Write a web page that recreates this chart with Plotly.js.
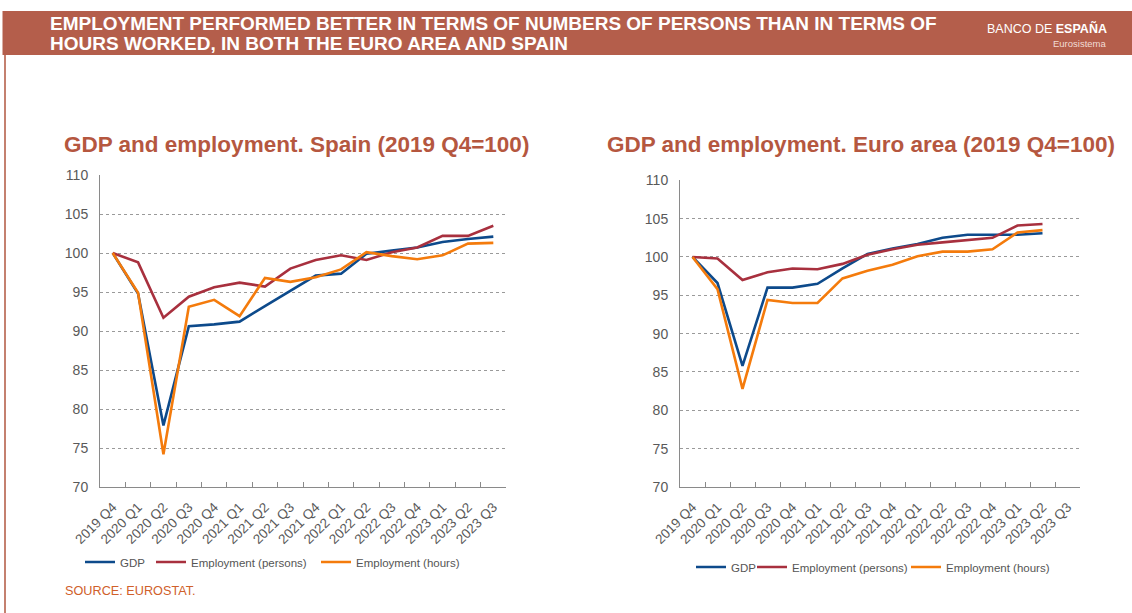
<!DOCTYPE html>
<html>
<head>
<meta charset="utf-8">
<script src="https://cdn.plot.ly/plotly-3.0.1.min.js"></script>
<style>html,body{margin:0;padding:0;background:#fff;}#chart{width:1132px;height:613px;}</style>
</head>
<body>
<div id="chart"></div>
<script>
// ---- data ----
const quarters = ["2019 Q4","2020 Q1","2020 Q2","2020 Q3","2020 Q4","2021 Q1","2021 Q2","2021 Q3",
  "2021 Q4","2022 Q1","2022 Q2","2022 Q3","2022 Q4","2023 Q1","2023 Q2","2023 Q3"];

const spainGDP     = [100, 94.8, 77.9, 90.6, 90.85, 91.2, 93.2, 95.2, 97.1, 97.35, 99.9, 100.3, 100.7, 101.4, 101.8, 102.1];
const spainPersons = [100, 98.8, 91.7, 94.4, 95.6, 96.2, 95.7, 98.0, 99.1, 99.7, 99.1, 100.1, 100.7, 102.2, 102.2, 103.5];
const spainHours   = [100, 94.9, 74.2, 93.1, 94.0, 91.9, 96.8, 96.3, 96.9, 97.9, 100.1, 99.6, 99.2, 99.7, 101.2, 101.3];

const euroGDP     = [100, 96.6, 85.8, 96.0, 96.0, 96.5, 98.5, 100.4, 101.1, 101.7, 102.5, 102.9, 102.9, 102.9, 103.1];
const euroPersons = [100, 99.8, 97.0, 98.0, 98.5, 98.4, 99.1, 100.3, 101.0, 101.6, 101.9, 102.2, 102.5, 104.1, 104.3];
const euroHours   = [100, 95.8, 82.8, 94.4, 94.0, 94.0, 97.2, 98.2, 99.0, 100.1, 100.7, 100.7, 101.0, 103.2, 103.5];

const seriesNames = ["GDP", "Employment (persons)", "Employment (hours)"];
const yTicks = [70, 75, 80, 85, 90, 95, 100, 105, 110];

// ---- style ----
const W = 1132, H = 613;
const px = v => v / W;
const py = v => 1 - v / H;
const colors = ["#0D4A8B", "#A8303E", "#F47B0C"];
const FONT = "Liberation Sans, Arial, sans-serif";

function line(x, y, name, color, xa, ya, leg) {
  return {type: "scatter", mode: "lines", x: x, y: y, name: name, xaxis: xa, yaxis: ya,
    legend: leg, showlegend: true, line: {color: color, width: 2.6}, hoverinfo: "skip"};
}
const data = [
  line(quarters.slice(0, spainGDP.length), spainGDP, seriesNames[0], colors[0], "x", "y", "legend"),
  line(quarters.slice(0, spainPersons.length), spainPersons, seriesNames[1], colors[1], "x", "y", "legend2"),
  line(quarters.slice(0, spainHours.length), spainHours, seriesNames[2], colors[2], "x", "y", "legend3"),
  line(quarters.slice(0, euroGDP.length), euroGDP, seriesNames[0], colors[0], "x2", "y2", "legend4"),
  line(quarters.slice(0, euroPersons.length), euroPersons, seriesNames[1], colors[1], "x2", "y2", "legend5"),
  line(quarters.slice(0, euroHours.length), euroHours, seriesNames[2], colors[2], "x2", "y2", "legend6")
];

function xAxis(domain, anchor) {
  return {domain: domain, anchor: anchor, type: "category", categoryorder: "array", categoryarray: quarters,
    range: [-0.5, quarters.length - 0.5], showline: true, linecolor: "#8a8a8a", linewidth: 1,
    ticks: "inside", ticklen: 5, tickcolor: "#8a8a8a", tickson: "boundaries", tickangle: -45,
    ticklabelstandoff: 6,
    tickfont: {family: FONT, size: 13.5, color: "#595959"}, showgrid: false, zeroline: false, fixedrange: true};
}
function yAxis(domain, anchor) {
  return {domain: domain, anchor: anchor, range: [70, 110], tickvals: yTicks, showline: true,
    linecolor: "#8a8a8a", linewidth: 1, ticks: "", showgrid: true, gridcolor: "#9a9a9a", gridwidth: 1,
    griddash: "3px,3px", zeroline: false, tickfont: {family: FONT, size: 14, color: "#595959"},
    ticklabelstandoff: 8, fixedrange: true};
}
function leg(xText, yc) {
  return {visible: true, x: px(xText - 40), y: py(yc), xanchor: "left", yanchor: "middle", orientation: "h",
    bgcolor: "rgba(0,0,0,0)", borderwidth: 0, itemwidth: 30,
    font: {family: FONT, size: 11.5, color: "#555"}};
}
function ann(x, y, text, size, color, xanchor, bold) {
  return {xref: "paper", yref: "paper", x: px(x), y: py(y), xanchor: xanchor || "left", yanchor: "middle",
    showarrow: false, text: bold ? "<b>" + text + "</b>" : text,
    font: {family: FONT, size: size, color: color}};
}

const layout = {
  width: W, height: H, margin: {l: 0, r: 0, t: 0, b: 0}, showlegend: true,
  paper_bgcolor: "#fff", plot_bgcolor: "#fff", hovermode: false,
  xaxis: xAxis([px(100), px(506)], "y"),
  yaxis: yAxis([1 - 487 / H, 1 - 175 / H], "x"),
  xaxis2: xAxis([px(680), px(1080)], "y2"),
  yaxis2: yAxis([1 - 487 / H, 1 - 180.3 / H], "x2"),
  legend: leg(120, 562), legend2: leg(191, 562), legend3: leg(356, 562),
  legend4: leg(731, 567), legend5: leg(792, 567), legend6: leg(946, 567),
  shapes: [
    {type: "rect", xref: "paper", yref: "paper", x0: px(2.5), x1: 1, y0: py(55), y1: py(11),
      fillcolor: "#B45E4B", line: {width: 0}, layer: "below"},
    {type: "line", xref: "paper", yref: "paper", x0: px(5), x1: px(5), y0: py(55), y1: 0,
      line: {color: "#C4806F", width: 2}}
  ],
  annotations: [
    ann(48, 24, "EMPLOYMENT PERFORMED BETTER IN TERMS OF NUMBERS OF PERSONS THAN IN TERMS OF", 19, "#fff", "left", true),
    ann(48, 44, "HOURS WORKED, IN BOTH THE EURO AREA AND SPAIN", 19, "#fff", "left", true),
    ann(1109, 28, "BANCO DE <b>ESPAÑA</b>", 12.5, "#fff", "right", false),
    ann(1109, 44, "Eurosistema", 9.5, "#F2DCD5", "right", false),
    ann(62, 144, "GDP and employment. Spain (2019 Q4=100)", 22.5, "#B5573F", "left", true),
    ann(605, 144, "GDP and employment. Euro area (2019 Q4=100)", 22.5, "#B5573F", "left", true),
    ann(63, 591, "SOURCE: EUROSTAT.", 12.7, "#D0602A", "left", false)
  ]
};

Plotly.newPlot("chart", data, layout, {staticPlot: true, displayModeBar: false});
</script>
</body>
</html>
